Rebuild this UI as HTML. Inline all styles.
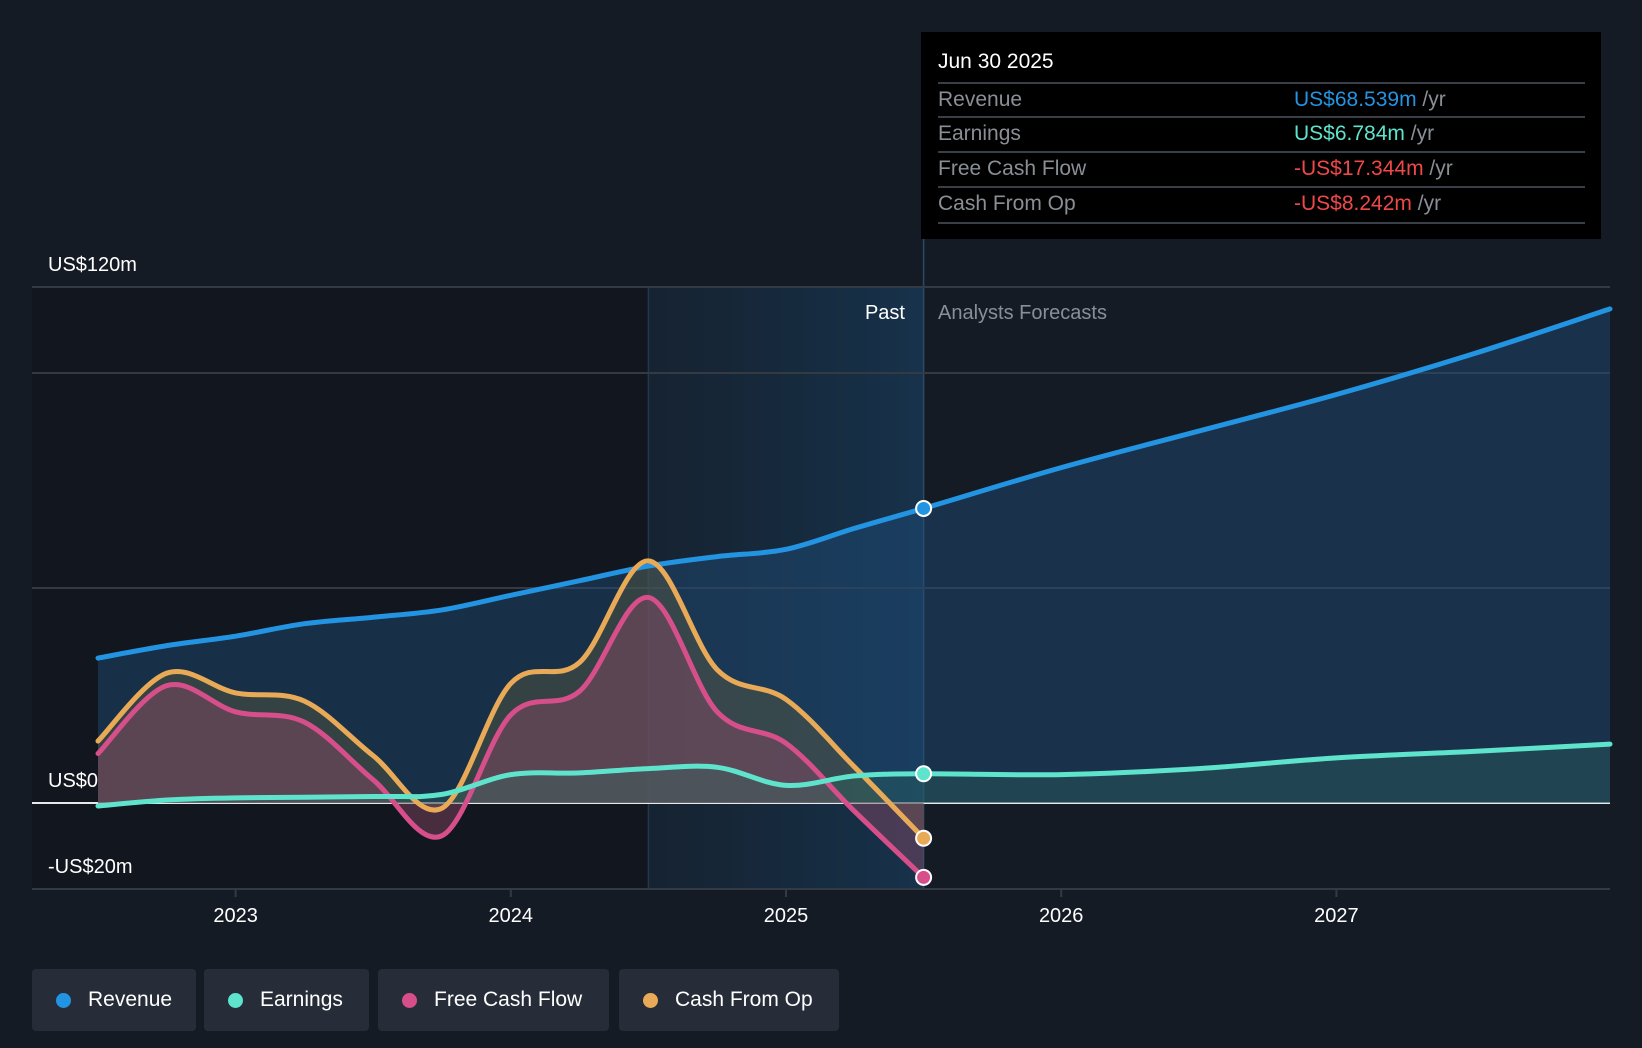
<!DOCTYPE html>
<html><head><meta charset="utf-8">
<style>
body{margin:0;background:#151b24;font-family:"Liberation Sans",sans-serif;}
#wrap{position:relative;width:1642px;height:1048px;overflow:hidden;background:#151b24;}
.lg{position:absolute;top:969px;height:62px;background:#262d38;border-radius:4px;color:#fff;font-size:21px;line-height:62px;box-sizing:border-box;padding-left:56px;}
.lg i{position:absolute;left:24px;top:24px;width:15px;height:15px;border-radius:50%;}
</style></head><body>
<div id="wrap">
<svg id="svg" width="1642" height="1048" style="position:absolute;left:0;top:0">
<defs>
<linearGradient id="band" x1="0" x2="1" y1="0" y2="0"><stop offset="0" stop-color="#16283a" stop-opacity="0.6"/><stop offset="1" stop-color="#173550" stop-opacity="0.9"/></linearGradient>
</defs>
<g id="bg"></g><g id="grid"></g><g id="areas"></g><g id="lines"></g><g id="axes"></g><g id="dots"></g>
</svg>
<div style="position:absolute;left:921px;top:32px;width:680px;height:207px;background:#000;">
<div style="position:absolute;left:17px;top:18px;color:#fff;font-size:21px;">Jun 30 2025</div>
<div style="position:absolute;left:17px;right:16px;top:50px;border-top:2px solid #3a3f47"></div>
<div style="position:absolute;left:17px;right:16px;top:84px;border-top:2px solid #3a3f47"></div>
<div style="position:absolute;left:17px;right:16px;top:119px;border-top:2px solid #3a3f47"></div>
<div style="position:absolute;left:17px;right:16px;top:154px;border-top:2px solid #3a3f47"></div>
<div style="position:absolute;left:17px;right:16px;top:190px;border-top:2px solid #3a3f47"></div>
<div style="position:absolute;left:17px;top:54px;color:#8a8f96;font-size:21px;line-height:28px">Revenue</div>
<div style="position:absolute;left:17px;top:88px;color:#8a8f96;font-size:21px;line-height:28px">Earnings</div>
<div style="position:absolute;left:17px;top:123px;color:#8a8f96;font-size:21px;line-height:28px">Free Cash Flow</div>
<div style="position:absolute;left:17px;top:158px;color:#8a8f96;font-size:21px;line-height:28px">Cash From Op</div>
<div style="position:absolute;left:373px;top:54px;font-size:21px;line-height:28px"><span style="color:#2394e2">US$68.539m</span> <span style="color:#8a8f96">/yr</span></div>
<div style="position:absolute;left:373px;top:88px;font-size:21px;line-height:28px"><span style="color:#5ee3cc">US$6.784m</span> <span style="color:#8a8f96">/yr</span></div>
<div style="position:absolute;left:373px;top:123px;font-size:21px;line-height:28px"><span style="color:#f04848">-US$17.344m</span> <span style="color:#8a8f96">/yr</span></div>
<div style="position:absolute;left:373px;top:158px;font-size:21px;line-height:28px"><span style="color:#f04848">-US$8.242m</span> <span style="color:#8a8f96">/yr</span></div>
</div>
<div class="lg" style="left:32px;width:164px"><i style="background:#2394e2"></i>Revenue</div>
<div class="lg" style="left:204px;width:165px"><i style="background:#5ee3cc"></i>Earnings</div>
<div class="lg" style="left:378px;width:231px"><i style="background:#d64f8a"></i>Free Cash Flow</div>
<div class="lg" style="left:619px;width:220px"><i style="background:#e9aa58"></i>Cash From Op</div>
</div>
<script>
const revYears=[2022.5,2022.75,2023,2023.25,2023.5,2023.75,2024,2024.25,2024.5,2024.75,2025,2025.25,2025.5,2026,2026.5,2027,2027.5,2028];
const revVals=[33.7,36.6,38.8,41.7,43.2,44.9,48.3,51.7,55.1,57.3,59,63.9,68.5,78,86.5,95,104.5,114.9];
const earnYears=[2022.5,2022.75,2023,2023.5,2023.75,2024,2024.25,2024.5,2024.75,2025,2025.25,2025.5,2026,2026.5,2027,2027.5,2028];
const earnVals=[-0.7,0.7,1.2,1.5,2,6.6,7,8,8.3,4.1,6.3,6.8,6.6,8,10.5,12,13.7];
const cashYears=[2022.5,2022.75,2023,2023.25,2023.5,2023.75,2024,2024.25,2024.5,2024.75,2025,2025.25,2025.5];
const fcfVals=[11.5,27.3,21.2,18.8,5.4,-7.6,20.5,26,47.8,21.2,13.9,-2,-17.3];
const cfoVals=[14.4,30.2,25.6,23.7,11,-1.2,27.8,32.7,56.3,31,24.1,8.3,-8.2];
const gridVals=[-20,0,50,100,120];
const yLabels=[[120,'US$120m'],[0,'US$0'],[-20,'-US$20m']];
const xTicks=[2023,2024,2025,2026,2027];
const X=t=>235.6+(t-2023)*275.2;
const Y=v=>803-v*4.3;
const L=32,R=1610,NS='http://www.w3.org/2000/svg';
function el(tag,attrs,parent){const e=document.createElementNS(NS,tag);for(const k in attrs)e.setAttribute(k,attrs[k]);document.getElementById(parent).appendChild(e);return e;}
function path(xs,vs){const p=xs.map((t,i)=>[Math.min(X(t),R),Y(vs[i])]);let d='M'+p[0][0]+','+p[0][1];
for(let i=0;i<p.length-1;i++){const p0=p[Math.max(i-1,0)],p1=p[i],p2=p[i+1],p3=p[Math.min(i+2,p.length-1)];
d+=' C'+(p1[0]+(p2[0]-p0[0])/6)+','+(p1[1]+(p2[1]-p0[1])/6)+' '+(p2[0]-(p3[0]-p1[0])/6)+','+(p2[1]-(p3[1]-p1[1])/6)+' '+p2[0]+','+p2[1];}return d;}
let r=el('rect',{x:L,y:Y(120),width:X(2024.5)-L,height:Y(-20)-Y(120),fill:'#12161e'},'bg');

r=el('rect',{x:X(2024.5),y:Y(120),width:X(2025.5)-X(2024.5),height:Y(-20)-Y(120),fill:'url(#band)'},'bg');

el('line',{x1:X(2024.5),x2:X(2024.5),y1:Y(120),y2:Y(-20),stroke:'#24384a','stroke-width':1.5},'bg');
el('line',{x1:X(2025.5),x2:X(2025.5),y1:32,y2:Y(-20),stroke:'#2a4a66','stroke-width':1.5},'bg');
gridVals.forEach(v=>{const g=el('line',{x1:L,x2:R,y1:Y(v),y2:Y(v),stroke:v===0?'#e8e8e8':'#333a44','stroke-width':2},'grid');
});
yLabels.forEach(([v,t])=>{const tx=el('text',{x:48,y:Y(v)-16,fill:'#fff','font-size':20},'axes');tx.textContent=t;
});
xTicks.forEach(t=>{el('line',{x1:X(t),x2:X(t),y1:Y(-20),y2:Y(-20)+8,stroke:'#333a44','stroke-width':2},'axes');
const tx=el('text',{x:X(t),y:922,fill:'#fff','font-size':20,'text-anchor':'middle'},'axes');tx.textContent=t;
});
let tx=el('text',{x:905,y:319,fill:'#fff','font-size':20,'text-anchor':'end'},'axes');tx.textContent='Past';

tx=el('text',{x:938,y:319,fill:'#8a8f96','font-size':20},'axes');tx.textContent='Analysts Forecasts';

function series(xs,vs,color,fill,fop,name){
const d=path(xs,vs);const x0=X(xs[0]),x1=Math.min(X(xs[xs.length-1]),R);
const a=el('path',{d:d+' L'+x1+','+Y(0)+' L'+x0+','+Y(0)+'Z',fill:fill,'fill-opacity':fop},'areas');

const l=el('path',{d:d,fill:'none',stroke:color,'stroke-width':5,'stroke-linecap':'round'},'lines');

const i=xs.indexOf(2025.5);
const c=el('circle',{cx:X(2025.5),cy:Y(vs[i]),r:7.5,fill:color,stroke:'#fff','stroke-width':2},'dots');
}
series(revYears,revVals,'#2394e2','#1f4e7a',0.45,'revenue');
series(cashYears,cfoVals,'#e9aa58','#5a5a40',0.45,'cash-from-op');
series(cashYears,fcfVals,'#d64f8a','#8a4a66',0.45,'free-cash-flow');
series(earnYears,earnVals,'#5ee3cc','#2d6b62',0.35,'earnings');
</script>
</body></html>
